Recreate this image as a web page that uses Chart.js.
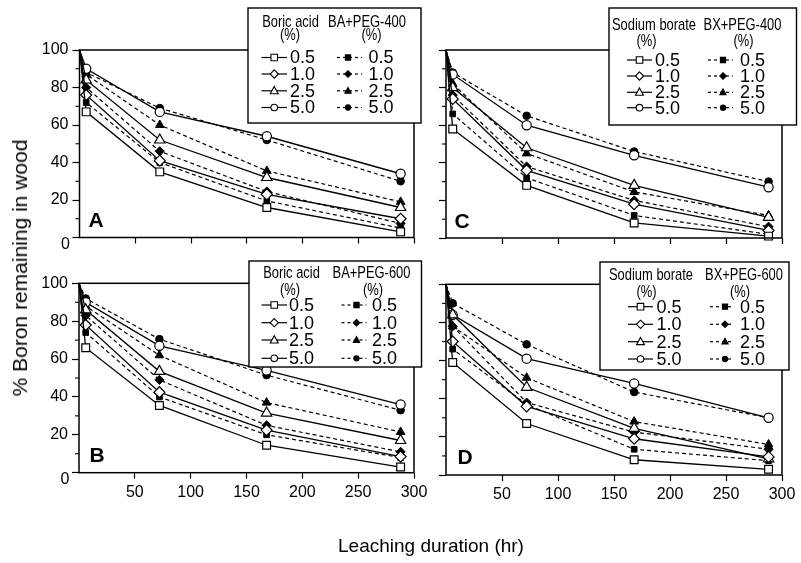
<!DOCTYPE html>
<html>
<head>
<meta charset="utf-8">
<script src="https://cdn.jsdelivr.net/npm/chart.js@4.4.0/dist/chart.umd.min.js"></script>
<style>
  html, body { margin: 0; padding: 0; background: #fff; }
  #wrap { position: relative; width: 801px; height: 563px; overflow: hidden; }
  #wrap canvas { position: absolute; left: 0; top: 0; }
  .ttl { position: absolute; font-family: "Liberation Sans", Arial, sans-serif; color: #000; white-space: nowrap; }
  #ytitle { left: 20px; top: 268px; font-size: 21px; transform: translate(-50%, -50%) rotate(-90deg); }
  #xtitle { left: 431px; top: 546px; font-size: 19px; transform: translate(-50%, -50%); }
</style>
</head>
<body>
<div id="wrap">
  <canvas id="cA" width="801" height="563"></canvas>
  <canvas id="cB" width="801" height="563"></canvas>
  <canvas id="cC" width="801" height="563"></canvas>
  <canvas id="cD" width="801" height="563"></canvas>
  <div class="ttl" id="ytitle">% Boron remaining in wood</div>
  <div class="ttl" id="xtitle">Leaching duration (hr)</div>
</div>
<script>
// leaching times (hr) and treatment concentrations (%)
const hours = [0, 6, 72, 168, 288];
const concentrations = ['0.5', '1.0', '2.5', '5.0'];

// A: boric acid vs BA+PEG-400
const boricAcidA = [
  [100, 67, 35, 16, 3],
  [100, 76, 41, 23, 10],
  [100, 84, 52, 32, 16],
  [100, 90, 67, 54, 34]
];
const baPeg400A = [
  [100, 72, 40, 19.5, 5],
  [100, 80, 46, 24.5, 7.5],
  [100, 87, 60, 35.5, 19],
  [100, 88, 69, 52, 30]
];
// B: boric acid vs BA+PEG-600
const boricAcidB = [
  [100, 66, 35.5, 14.5, 3],
  [100, 78, 42.5, 22.5, 8.5],
  [100, 86, 53.5, 31.5, 17],
  [100, 90, 67, 54, 36]
];
const baPeg600B = [
  [100, 74, 40, 20, 8],
  [100, 83, 49, 25, 11],
  [100, 88, 62, 37, 21.5],
  [100, 92, 70.5, 51.5, 33]
];
// C: sodium borate vs BX+PEG-400
const sodiumBorateC = [
  [100, 58, 28, 8, 1],
  [100, 74, 36, 18, 4],
  [100, 80, 48, 28, 11],
  [100, 87, 60, 44, 27]
];
const bxPeg400C = [
  [100, 66, 32, 12, 2],
  [100, 76, 38, 20, 6],
  [100, 82, 45, 24.5, 12],
  [100, 88, 65, 46, 30]
];
// D: sodium borate vs BX+PEG-600
const sodiumBorateD = [
  [100, 59, 27, 8, 3],
  [100, 70, 36, 19, 9.5],
  [100, 84, 46, 24.5, 8.5],
  [100, 84, 61, 48, 30]
];
const bxPeg600D = [
  [100, 66, 37, 13.5, 7.5],
  [100, 78, 38, 22.5, 13.5],
  [100, 78, 51, 28, 16],
  [100, 90, 68.5, 43.5, 30]
];

const markerStyles = ['rect', 'rectRot', 'triangle', 'circle'];
const openRadius = [5.5, 5.5, 6, 4.6];
const filledRadius = [4, 4.6, 5, 3.8];

const tickFont = { family: '"Liberation Sans", Arial, sans-serif', size: 16 };

function makeDatasets(solid, dashed) {
  const sets = [];
  solid.forEach((vals, i) => {
    sets.push({
      label: 'solid ' + concentrations[i],
      data: hours.map((h, j) => ({ x: h, y: vals[j] })),
      borderColor: '#000',
      borderWidth: 1.3,
      pointStyle: markerStyles[i],
      pointRadius: hours.map(h => (h === 0 ? 0 : openRadius[i])),
      pointBackgroundColor: '#fff',
      pointBorderColor: '#000',
      pointBorderWidth: 1.2,
      tension: 0,
      clip: false
    });
  });
  dashed.forEach((vals, i) => {
    sets.push({
      label: 'dashed ' + concentrations[i],
      data: hours.map((h, j) => ({ x: h, y: vals[j] })),
      borderColor: '#000',
      borderWidth: 1.2,
      borderDash: [4, 3],
      pointStyle: markerStyles[i],
      pointRadius: hours.map(h => (h === 0 ? 0 : filledRadius[i])),
      pointBackgroundColor: '#000',
      pointBorderColor: '#000',
      pointBorderWidth: 1,
      tension: 0,
      clip: false
    });
  });
  return sets;
}

function drawMarker(ctx, style, x, y, r, filled) {
  ctx.save();
  ctx.beginPath();
  if (style === 'rect') {
    ctx.rect(x - r, y - r, 2 * r, 2 * r);
  } else if (style === 'rectRot') {
    ctx.moveTo(x, y - r * 1.25); ctx.lineTo(x + r * 1.25, y);
    ctx.lineTo(x, y + r * 1.25); ctx.lineTo(x - r * 1.25, y); ctx.closePath();
  } else if (style === 'triangle') {
    ctx.moveTo(x, y - r * 1.3); ctx.lineTo(x + r * 1.2, y + r * 0.9);
    ctx.lineTo(x - r * 1.2, y + r * 0.9); ctx.closePath();
  } else {
    ctx.arc(x, y, r, 0, Math.PI * 2);
  }
  ctx.fillStyle = filled ? '#000' : '#fff';
  ctx.fill();
  ctx.lineWidth = 1.1;
  ctx.strokeStyle = '#000';
  ctx.stroke();
  ctx.restore();
}

// condensed header text (no narrow face installed)
function narrowText(ctx, text, x, y) {
  ctx.save();
  ctx.translate(x, y);
  ctx.scale(0.76, 1);
  ctx.fillText(text, 0, 0);
  ctx.restore();
}

const panelPlugin = {
  id: 'panelDecor',
  afterDraw(chart, args, opts) {
    const ctx = chart.ctx;
    const a = chart.chartArea;
    const ys = chart.scales.y;
    ctx.save();
    // frame
    ctx.strokeStyle = '#000';
    ctx.lineWidth = 1.5;
    ctx.strokeRect(a.left, a.top, a.right - a.left, a.bottom - a.top);
    // minor ticks on y
    ctx.lineWidth = 1.1;
    for (let v = 10; v < 100; v += 20) {
      const py = ys.getPixelForValue(v);
      ctx.beginPath();
      ctx.moveTo(a.left - 4, py);
      ctx.lineTo(a.left, py);
      ctx.stroke();
    }
    ctx.fillStyle = '#000';
    // corner zero label
    if (opts.zero) {
      ctx.font = '16px "Liberation Sans", Arial, sans-serif';
      ctx.textAlign = 'center';
      ctx.textBaseline = 'middle';
      ctx.fillText('0', a.left - 14, a.bottom + 7);
    }
    // panel letter
    ctx.font = 'bold 21px "Liberation Sans", Arial, sans-serif';
    ctx.textAlign = 'center';
    ctx.textBaseline = 'middle';
    ctx.fillText(opts.letter, opts.letterX, opts.letterY);

    // legend box
    const L = opts.legend;
    ctx.fillStyle = '#fff';
    ctx.fillRect(L.box[0], L.box[1], L.box[2] - L.box[0], L.box[3] - L.box[1]);
    ctx.strokeStyle = '#000';
    ctx.lineWidth = 1.4;
    ctx.strokeRect(L.box[0], L.box[1], L.box[2] - L.box[0], L.box[3] - L.box[1]);
    ctx.fillStyle = '#000';
    ctx.font = '17px "Liberation Sans", Arial, sans-serif';
    ctx.textAlign = 'center';
    narrowText(ctx, L.head1, L.head1X, L.headY);
    narrowText(ctx, L.head2, L.head2X, L.headY);
    narrowText(ctx, '(%)', L.pct1X, L.pctY);
    narrowText(ctx, '(%)', L.pct2X, L.pctY);
    ctx.font = '18px "Liberation Sans", Arial, sans-serif';
    ctx.textAlign = 'left';
    L.rows.forEach((ry, i) => {
      // solid sample
      ctx.setLineDash([]);
      ctx.lineWidth = 1.2;
      ctx.beginPath();
      ctx.moveTo(L.solid[0], ry); ctx.lineTo(L.solid[1], ry); ctx.stroke();
      drawMarker(ctx, markerStyles[i], (L.solid[0] + L.solid[1]) / 2, ry, 3.3, false);
      ctx.fillText(concentrations[i], L.solidText, ry + 1);
      // dashed sample
      ctx.setLineDash([3, 3]);
      ctx.beginPath();
      ctx.moveTo(L.dashed[0], ry); ctx.lineTo(L.dashed[1], ry); ctx.stroke();
      ctx.setLineDash([]);
      drawMarker(ctx, markerStyles[i], L.dashed[2], ry, 2.6, true);
      ctx.fillText(concentrations[i], L.dashedText, ry + 1);
    });
    ctx.restore();
  }
};

const Y_W = 45, X_H = 30;

function buildPanel(canvasId, solid, dashed, box, showY, showX, decor) {
  return new Chart(document.getElementById(canvasId), {
    type: 'line',
    data: { datasets: makeDatasets(solid, dashed) },
    options: {
      responsive: false,
      animation: false,
      devicePixelRatio: 1,
      events: [],
      layout: {
        padding: {
          left: box.l - Y_W,
          right: 801 - box.r,
          top: box.t,
          bottom: 563 - box.b - X_H
        }
      },
      plugins: {
        legend: { display: false },
        tooltip: { enabled: false },
        panelDecor: decor
      },
      scales: {
        x: {
          type: 'linear',
          min: 0,
          max: 300,
          border: { display: false },
          grid: {
            drawOnChartArea: false,
            drawTicks: true,
            tickLength: 6,
            tickWidth: 1.2,
            tickColor: c => (c.tick && c.tick.value === 0 ? 'rgba(0,0,0,0)' : '#000')
          },
          ticks: {
            stepSize: 50,
            autoSkip: false,
            maxRotation: 0,
            padding: 4,
            color: '#000',
            font: tickFont,
            callback: v => (showX && v !== 0 ? String(v) : '')
          },
          afterFit: s => { s.height = X_H; }
        },
        y: {
          min: 0,
          max: 100,
          border: { display: false },
          grid: {
            drawOnChartArea: false,
            drawTicks: true,
            tickLength: 7,
            tickWidth: 1.2,
            tickColor: c => (c.tick && c.tick.value % 20 === 0 ? '#000' : 'rgba(0,0,0,0)')
          },
          ticks: {
            stepSize: 10,
            autoSkip: false,
            padding: 4,
            color: '#000',
            font: tickFont,
            callback: v => (showY && v % 20 === 0 && v > 0 ? String(v) : '')
          },
          afterFit: s => { s.width = Y_W; }
        }
      }
    },
    plugins: [panelPlugin]
  });
}

buildPanel('cA', boricAcidA, baPeg400A, { l: 79.5, r: 414, t: 50, b: 237.5 }, true, false, {
  letter: 'A', letterX: 96, letterY: 221, zero: true,
  legend: {
    box: [248, 8, 421, 123],
    head1: 'Boric acid', head1X: 290.5, head2: 'BA+PEG-400', head2X: 367, headY: 22.5,
    pct1X: 290, pct2X: 371.5, pctY: 35.5,
    rows: [57.5, 74, 90.8, 107.5],
    solid: [261.5, 287], solidText: 290,
    dashed: [337, 362, 348], dashedText: 368.5
  }
});
buildPanel('cB', boricAcidB, baPeg600B, { l: 79, r: 414, t: 283.3, b: 472.7 }, true, true, {
  letter: 'B', letterX: 97, letterY: 456, zero: true,
  legend: {
    box: [249, 261, 421.5, 367],
    head1: 'Boric acid', head1X: 291.5, head2: 'BA+PEG-600', head2X: 371.5, headY: 273.5,
    pct1X: 290, pct2X: 373, pctY: 290.5,
    rows: [305, 322.7, 340, 358.3],
    solid: [261.5, 287], solidText: 289,
    dashed: [341.5, 366.5, 356.5], dashedText: 372
  }
});
buildPanel('cC', sodiumBorateC, bxPeg400C, { l: 446, r: 782, t: 50, b: 238 }, false, false, {
  letter: 'C', letterX: 462, letterY: 222, zero: false,
  legend: {
    box: [609, 8, 796.5, 125],
    head1: 'Sodium borate', head1X: 654, head2: 'BX+PEG-400', head2X: 742.5, headY: 25.3,
    pct1X: 646.5, pct2X: 743.5, pctY: 41.7,
    rows: [60, 76, 92.3, 107.7],
    solid: [627, 652], solidText: 655,
    dashed: [708, 733, 723], dashedText: 740
  }
});
buildPanel('cD', sodiumBorateD, bxPeg600D, { l: 446, r: 782, t: 284.3, b: 475 }, false, true, {
  letter: 'D', letterX: 465, letterY: 458, zero: false,
  legend: {
    box: [600, 262, 789, 370],
    head1: 'Sodium borate', head1X: 651, head2: 'BX+PEG-600', head2X: 744, headY: 275,
    pct1X: 646.5, pct2X: 740, pctY: 292,
    rows: [306.7, 324.3, 341.7, 359],
    solid: [628, 653], solidText: 656.5,
    dashed: [710, 734, 725], dashedText: 740
  }
});
</script>
</body>
</html>
